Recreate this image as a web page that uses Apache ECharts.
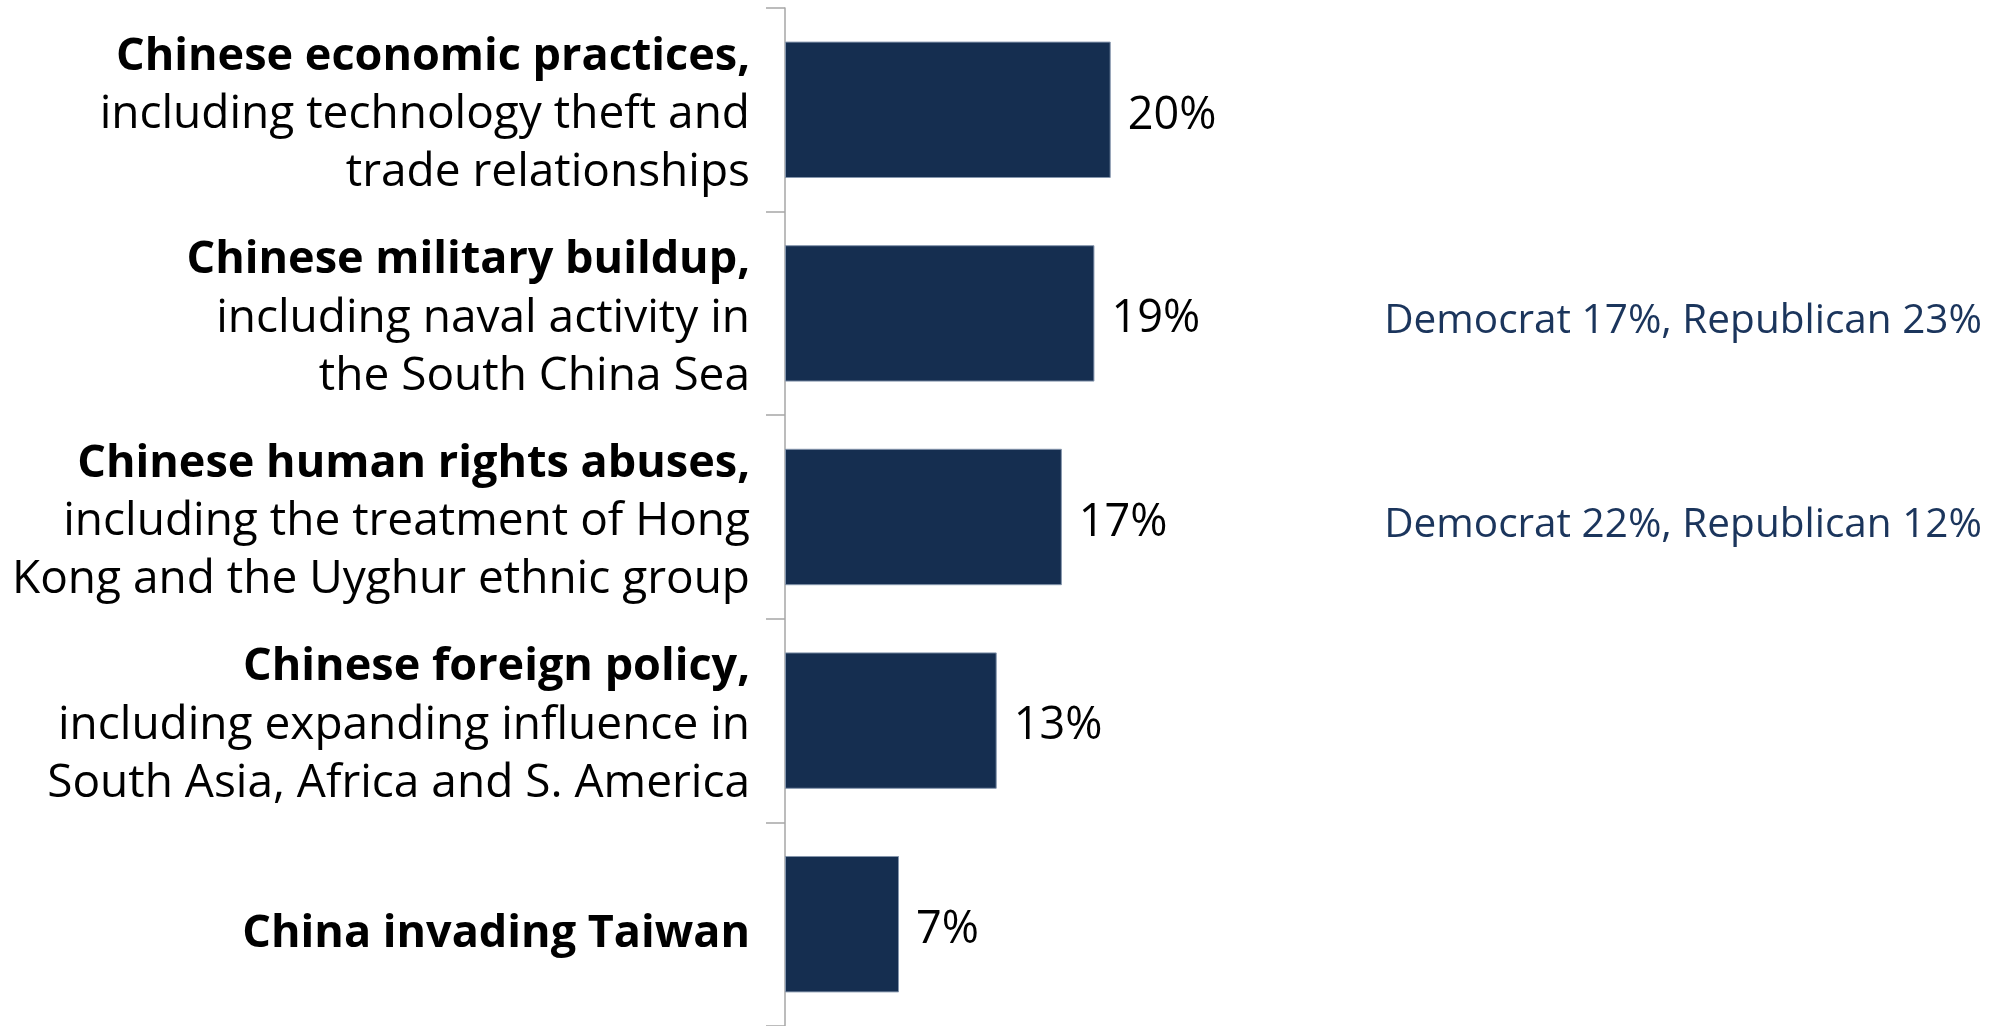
<!DOCTYPE html>
<html lang="en">
<head>
    <meta charset="UTF-8">
    <title>China concerns</title>
    <script src="https://cdn.jsdelivr.net/npm/echarts@6/dist/echarts.min.js"></script>
    <style>
        html, body { margin: 0; padding: 0; background: #fff; }
        #chart { width: 1992px; height: 1026px; }
    </style>
</head>
<body>
    <div id="chart"></div>
    <script>
        const headings = [
            'Chinese economic practices,',
            'Chinese military buildup,',
            'Chinese human rights abuses,',
            'Chinese foreign policy,',
            'China invading Taiwan'
        ];
        const details = [
            ['including technology theft and', 'trade relationships'],
            ['including naval activity in', 'the South China Sea'],
            ['including the treatment of Hong', 'Kong and the Uyghur ethnic group'],
            ['including expanding influence in', 'South Asia, Africa and S. America'],
            []
        ];
        const values = [20, 19, 17, 13, 7];
        const partyNotes = ['', 'Democrat 17%, Republican 23%', 'Democrat 22%, Republican 12%', '', ''];

        const font = 'Open Sans';
        // single-line heading gets its own style so it sits a touch lower
        const categoryLabels = headings.map((h, i) =>
            details[i].length
                ? ['{b|' + h + '}'].concat(details[i].map(d => '{n|' + d + '}')).join('\n')
                : '{t|' + h + '}'
        );

        const chart = echarts.init(document.getElementById('chart'));
        chart.setOption({
            animation: false,
            grid: { left: 785, right: 10, top: 8, bottom: -2 },
            xAxis: {
                type: 'value', min: 0, max: 73.5,
                show: false
            },
            yAxis: [{
                type: 'category',
                data: categoryLabels,
                inverse: true,
                axisLine: { lineStyle: { color: '#a6a6a6', width: 1.5 } },
                axisTick: { show: true, length: 19, lineStyle: { color: '#a6a6a6', width: 1.5 } },
                axisLabel: {
                    margin: 35,
                    align: 'right',
                    padding: [10, 0, 0, 0],
                    fontFamily: font,
                    rich: {
                        b: { fontFamily: font, fontSize: 45, fontWeight: 'bold', color: '#000', lineHeight: 58, align: 'right' },
                        n: { fontFamily: font, fontSize: 46, color: '#000', lineHeight: 58, align: 'right' },
                        t: { fontFamily: font, fontSize: 45, fontWeight: 'bold', color: '#000', lineHeight: 58, align: 'right', padding: [10, 0, 0, 0] }
                    }
                }
            }, {
                type: 'category',
                data: partyNotes,
                inverse: true,
                position: 'right',
                axisLine: { show: false },
                axisTick: { show: false },
                axisLabel: {
                    margin: 0,
                    align: 'right',
                    formatter: v => v ? '{p|' + v + '}' : '',
                    rich: {
                        p: { fontFamily: font, fontSize: 40.5, color: '#1b355c', padding: [16, 0, 0, 0] }
                    }
                }
            }],
            series: [{
                type: 'bar',
                data: values,
                barCategoryGap: '33%',
                itemStyle: { color: '#152e50', borderColor: '#8596ad', borderWidth: 1 },
                label: {
                    show: true,
                    position: 'right',
                    distance: 17,
                    offset: [0, 6],
                    formatter: '{c}%',
                    fontFamily: font,
                    fontSize: 45,
                    color: '#000'
                }
            }]
        });
    </script>
</body>
</html>
